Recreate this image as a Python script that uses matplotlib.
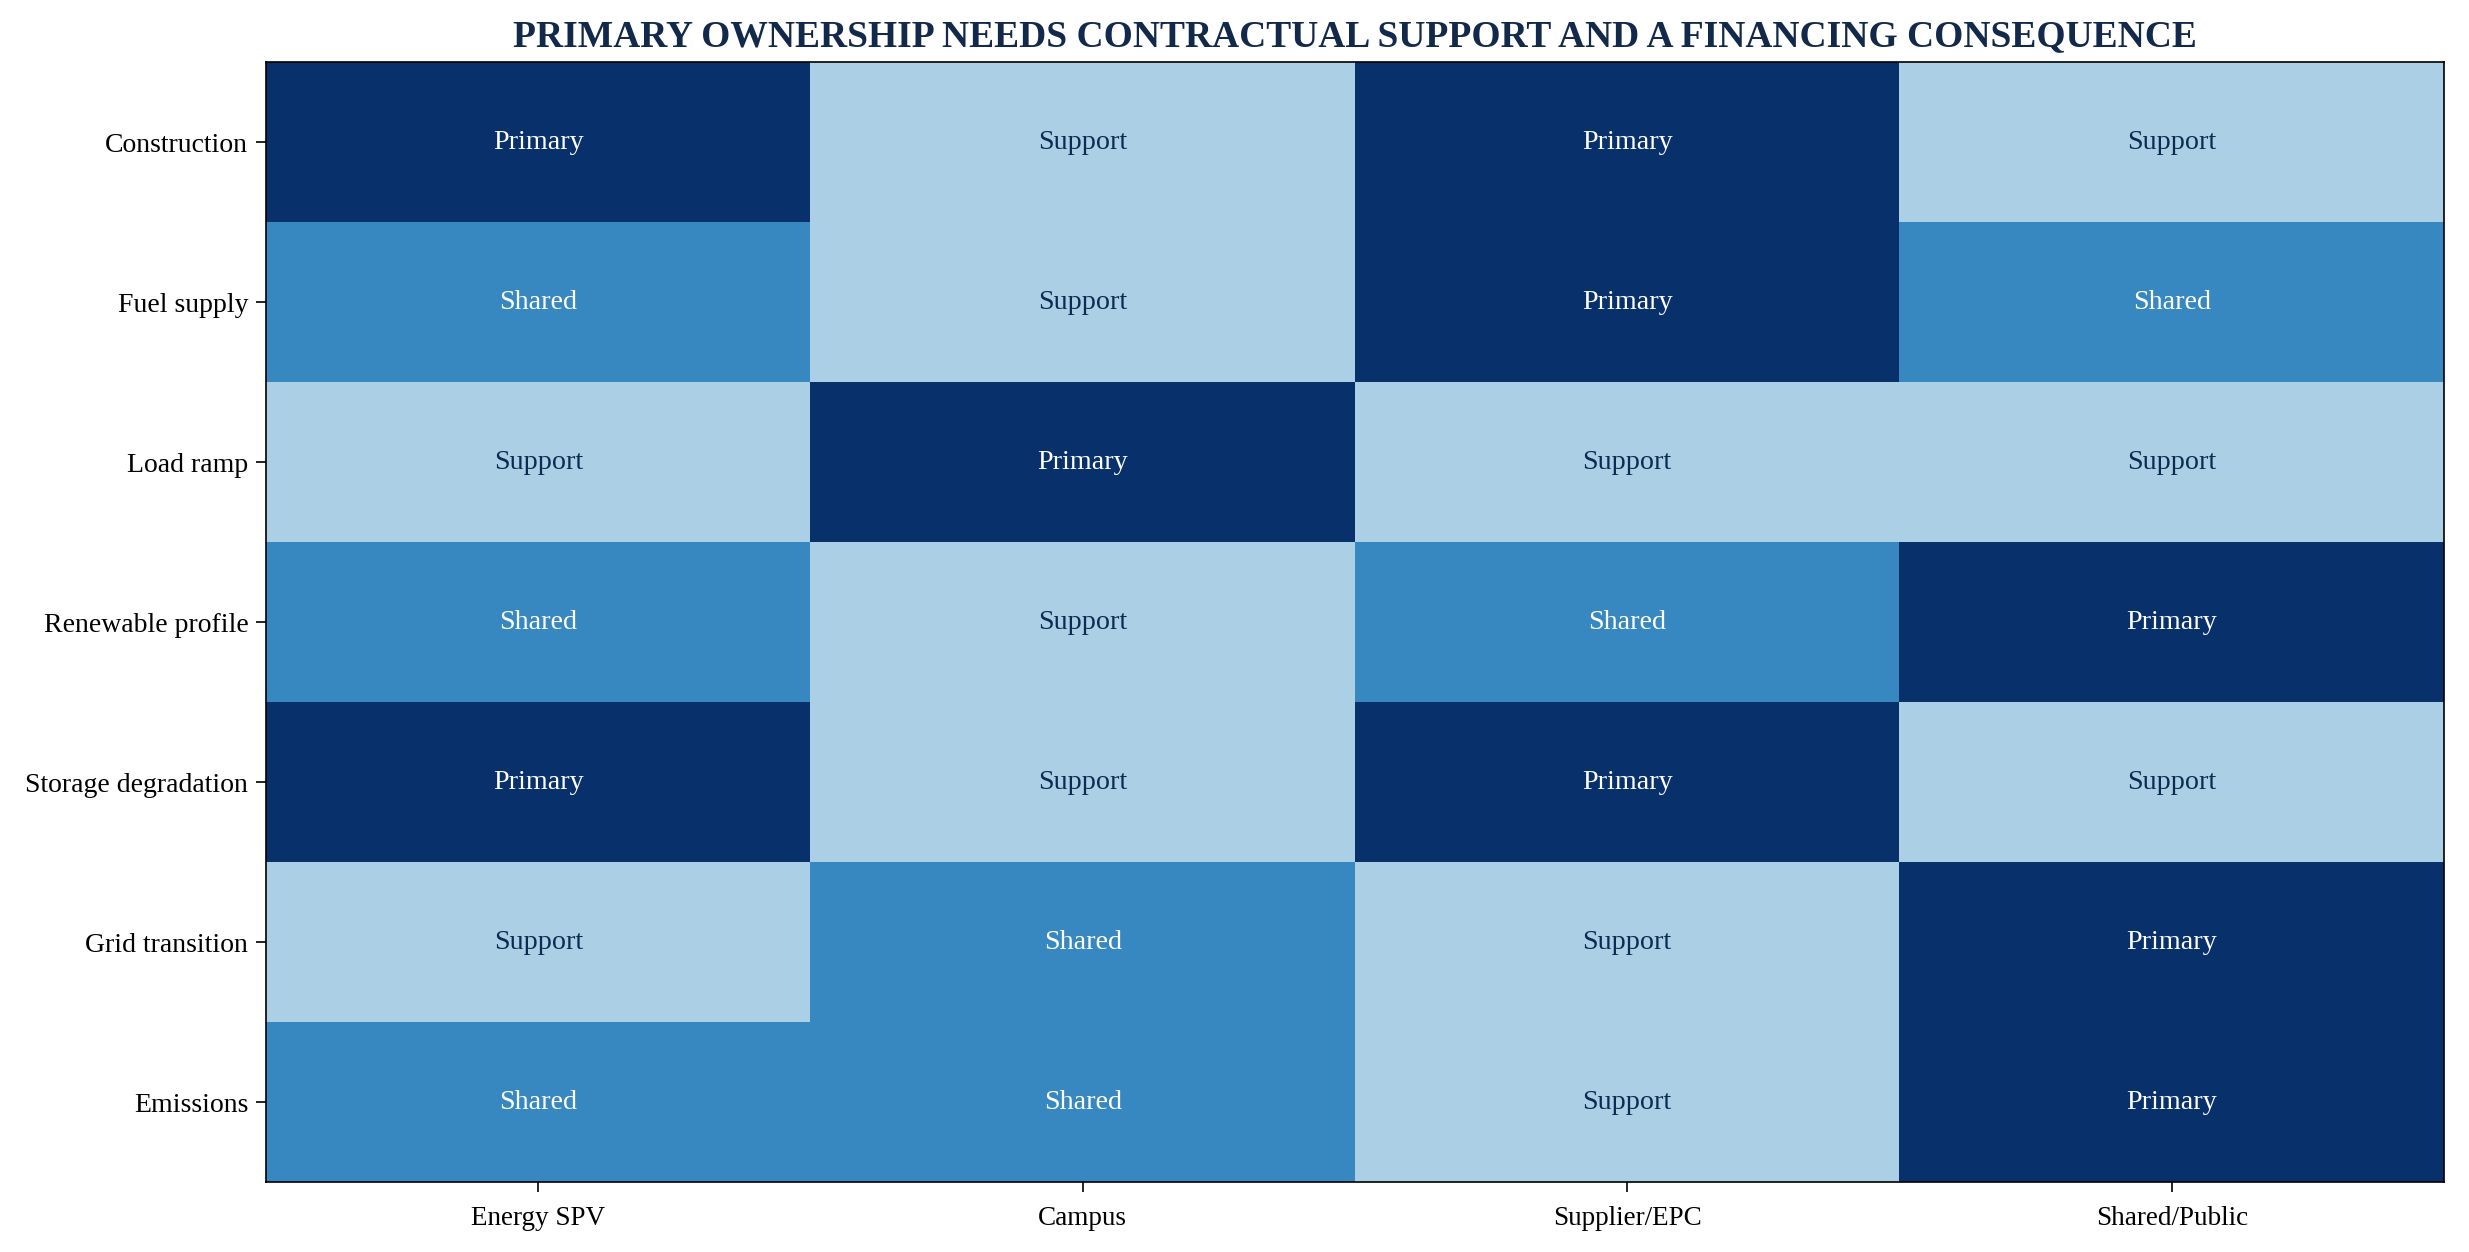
import numpy as np
import matplotlib
matplotlib.use('Agg')
from matplotlib import pyplot as plt

plt.rcParams['font.family'] = ['Liberation Serif', 'DejaVu Serif']

risks = ['Construction', 'Fuel supply', 'Load ramp', 'Renewable profile',
         'Storage degradation', 'Grid transition', 'Emissions']
owners = ['Energy SPV', 'Campus', 'Supplier/EPC', 'Shared/Public']
levels = ['Support', 'Shared', 'Primary']

roles = [
    ['Primary', 'Support', 'Primary', 'Support'],
    ['Shared', 'Support', 'Primary', 'Shared'],
    ['Support', 'Primary', 'Support', 'Support'],
    ['Shared', 'Support', 'Shared', 'Primary'],
    ['Primary', 'Support', 'Primary', 'Support'],
    ['Support', 'Shared', 'Support', 'Primary'],
    ['Shared', 'Shared', 'Support', 'Primary'],
]

grid = np.array([[levels.index(r) + 1 for r in row] for row in roles])

fig = plt.figure(figsize=(16.46, 8.353), dpi=150)
ax = fig.add_axes([266 / 2469, 1 - 1183 / 1253, (2444 - 266) / 2469, (1183 - 63) / 1253])
ax.imshow(grid, cmap='Blues', vmin=0, vmax=3, aspect='auto')

for i, row in enumerate(roles):
    for j, r in enumerate(row):
        color = '#0d2b52' if r == 'Support' else 'white'
        ax.text(j, i, r, ha='center', va='center', fontsize=13.5, color=color)

ax.set_xticks(range(len(owners)))
ax.set_xticklabels(owners, fontsize=13)
ax.set_yticks(range(len(risks)))
ax.set_yticklabels(risks, fontsize=13.3)
ax.tick_params(length=5)
ax.tick_params(axis='x', pad=6)
ax.set_title('PRIMARY OWNERSHIP NEEDS CONTRACTUAL SUPPORT AND A FINANCING CONSEQUENCE',
             fontsize=18, fontweight='bold', color='#13294b', pad=8)

fig.savefig('out.png', dpi=150)
